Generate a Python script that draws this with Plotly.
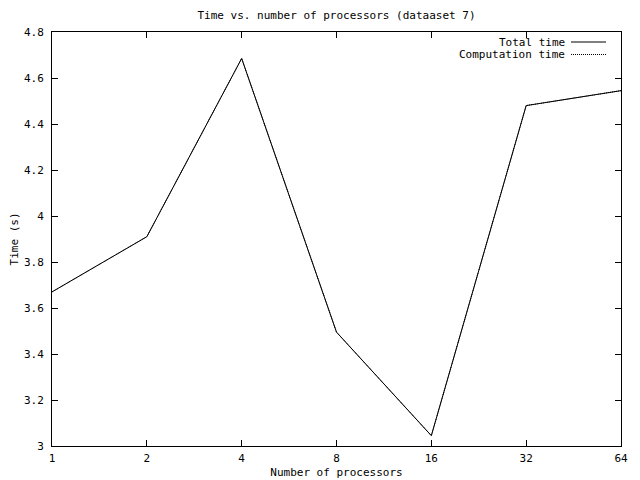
import plotly.graph_objects as go

processors = [1, 2, 4, 8, 16, 32, 64]
total_time = [3.67, 3.91, 4.685, 3.495, 3.045, 4.48, 4.545]
computation_time = [3.67, 3.91, 4.685, 3.495, 3.045, 4.48, 4.545]
x_ticks = [1, 2, 4, 8, 16, 32, 64]
y_ticks = [3, 3.2, 3.4, 3.6, 3.8, 4, 4.2, 4.4, 4.6, 4.8]
y_tick_text = ["3", "3.2", "3.4", "3.6", "3.8", "4", "4.2", "4.4", "4.6", "4.8"]

FONT = "DejaVu Sans Mono"
FS = 11
OFF = 8  # page body margin offset
W, H = 640 - OFF, 480 - OFF
fig = go.Figure()
fig.add_trace(go.Scatter(x=processors, y=computation_time, mode="lines",
                         name="Computation time",
                         line=dict(color="black", width=1, dash="1px,1px"),
                         showlegend=False))
fig.add_trace(go.Scatter(x=processors, y=total_time, mode="lines",
                         name="Total time",
                         line=dict(color="black", width=1),
                         showlegend=False))

# plot area in page pixels: x 52..621, y 32..446
L, R, T, B = 52 - OFF, 640 - 621, 32 - OFF, 480 - 446
PW, PH = W - L - R, H - T - B
fig.update_layout(
    width=W, height=H,
    margin=dict(l=L, r=R, t=T, b=B, autoexpand=False),
    paper_bgcolor="white", plot_bgcolor="white",
    font=dict(family=FONT, size=FS, color="black"),
    title=dict(text="Time vs. number of processors (dataaset 7)",
               x=0.5, xref="paper", xanchor="center",
               y=1 - (15 - OFF) / H, yref="container", yanchor="middle",
               automargin=False,
               font=dict(family=FONT, size=FS)),
    xaxis=dict(type="log", range=[0, 1.80618], tickvals=x_ticks,
               ticktext=[str(v) for v in x_ticks],
               ticks="inside", ticklen=6, tickcolor="black",
               tickfont=dict(family=FONT, size=FS), ticklabelstandoff=2,
               showline=True, linecolor="black", linewidth=1, mirror="ticks",
               showgrid=False, zeroline=False, automargin=False,
               title=dict(text="Number of processors", standoff=4,
                          font=dict(family=FONT, size=FS))),
    yaxis=dict(range=[3, 4.8], tickvals=y_ticks, ticktext=y_tick_text,
               ticks="inside", ticklen=6, tickcolor="black",
               tickfont=dict(family=FONT, size=FS), ticklabelstandoff=5,
               showline=True, linecolor="black", linewidth=1, mirror="ticks",
               showgrid=False, zeroline=False, automargin=False,
               title=dict(text="Time (s)", standoff=8,
                          font=dict(family=FONT, size=FS))),
)

# gnuplot-style key (text right-aligned, sample to the right); page pixels
legend_items = [("Total time", "solid", 42), ("Computation time", "1px,1px", 54.5)]
for label, dash, ypx in legend_items:
    yp = 1 - (ypx - OFF - T) / PH
    fig.add_annotation(text=label, xref="paper", yref="paper",
                       x=(567 - OFF - L) / PW, y=yp,
                       xanchor="right", yanchor="middle", showarrow=False,
                       font=dict(family=FONT, size=FS))
    fig.add_shape(type="line", xref="paper", yref="paper",
                  x0=(571 - OFF - L) / PW, x1=(606 - OFF - L) / PW,
                  y0=yp, y1=yp, line=dict(color="black", width=1, dash=dash))

fig.write_html("out.html")
